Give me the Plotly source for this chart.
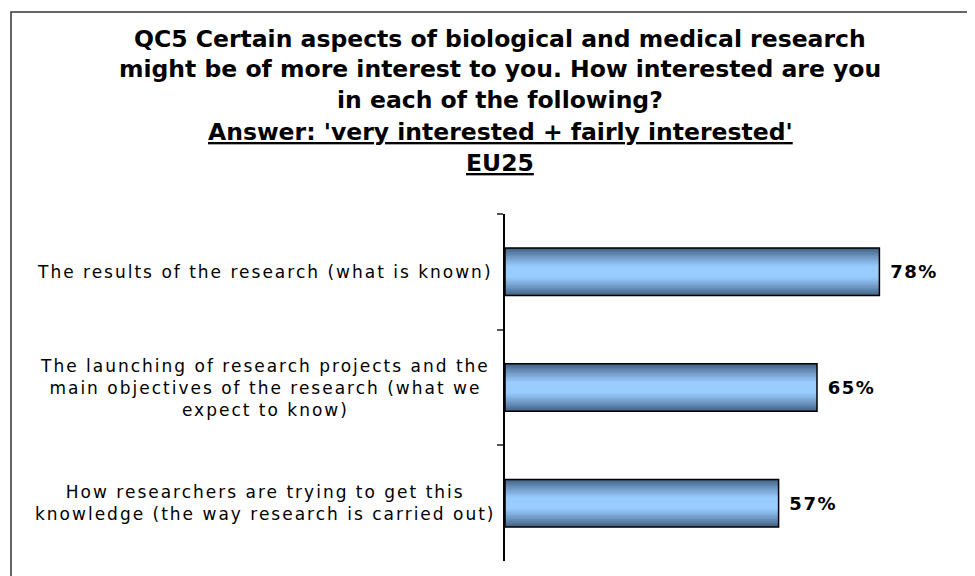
import plotly.graph_objects as go

categories = [
    "The results of the research (what is known)",
    "The launching of research projects and the<br>main objectives of the research (what we<br>expect to know)",
    "How researchers are trying to get this<br>knowledge (the way research is carried out)",
]
values = [78, 65, 57]
value_labels = ["78%", "65%", "57%"]

title_lines = [
    "QC5 Certain aspects of biological and medical research",
    "might be of more interest to you. How interested are you",
    "in each of the following?",
    "<u>Answer: 'very interested + fairly interested'</u>",
    "<u>EU25</u>",
]

OFF = 8  # default page margin of the html body
W, H = 975 - OFF, 576 - OFF
L, R, T, B = 497, 38, 206, 15
PW, PH = W - L - R, H - T - B


def px(x):
    return (x - OFF - L) / PW


def py(y):
    return (H - B - (y - OFF)) / PH


def spaced(txt, ls):
    return "<br>".join('<span style="letter-spacing:%spx">%s</span>' % (ls, part)
                       for part in txt.split("<br>"))


fig = go.Figure()

BAR_W = 0.41
N = 18
dark = (66, 96, 130)
light = (153, 204, 255)
for i in range(N):
    t = i / N
    f = min(1.0, t / 0.75) ** 0.85
    c = tuple(int(round(d + (l - d) * f)) for d, l in zip(dark, light))
    fig.add_trace(go.Bar(
        x=values, y=categories, orientation="h",
        width=BAR_W * (1 - t),
        marker=dict(color="rgb(%d,%d,%d)" % c, line=dict(width=0)),
        hoverinfo="skip", showlegend=False,
    ))

fig.add_trace(go.Bar(
    x=values, y=categories, orientation="h", width=BAR_W,
    marker=dict(color="rgba(0,0,0,0)", line=dict(color="#000000", width=1.5)),
    text=["<b>" + spaced("\u00a0" + s, 1.5) + "</b>" for s in value_labels],
    textposition="outside",
    textfont=dict(family="DejaVu Sans", size=18, color="#000000"),
    cliponaxis=False, showlegend=False,
))

annotations = []
baselines = [47, 77, 108, 140, 171]
for line, b in zip(title_lines, baselines):
    annotations.append(dict(
        text="<b>" + line + "</b>", xref="paper", yref="paper",
        x=px(500), y=py(b - 8),
        xanchor="center", yanchor="middle", showarrow=False,
        font=dict(family="DejaVu Sans", size=23.5, color="#000000"),
    ))

for cat in categories:
    annotations.append(dict(
        text=spaced(cat, 2), xref="paper", yref="y", x=px(265), y=cat,
        xanchor="center", yanchor="middle", align="center", showarrow=False,
        font=dict(family="DejaVu Sans", size=17, color="#000000"),
    ))

fig.update_layout(
    width=W, height=H,
    margin=dict(l=L, r=R, t=T, b=B),
    paper_bgcolor="#ffffff", plot_bgcolor="#ffffff",
    barmode="overlay",
    annotations=annotations,
    shapes=[dict(type="rect", xref="paper", yref="paper",
                 x0=px(11), x1=px(1000), y0=py(620), y1=py(12),
                 line=dict(color="#333333", width=1.5), layer="below")],
    xaxis=dict(visible=False, range=[0, 90]),
    yaxis=dict(
        categoryorder="array", categoryarray=categories,
        range=[2.5, -0.5], showticklabels=False,
        showline=True, linecolor="#000000", linewidth=1.5,
        ticks="outside", tickson="boundaries", ticklen=6,
        tickcolor="#555555", tickwidth=1.5, showgrid=False, zeroline=False,
    ),
)

fig.write_html("out.html")
